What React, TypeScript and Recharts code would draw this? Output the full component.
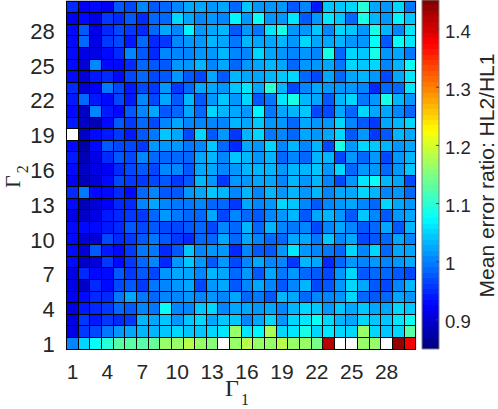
import React from "react";
import { BarChart, Bar, ScatterChart, Scatter, XAxis, YAxis } from "recharts";

// tick labels
const gammaTicks = [1, 4, 7, 10, 13, 16, 19, 22, 25, 28];
const colorTicks = [0.9, 1, 1.1, 1.2, 1.3, 1.4];
const colorRange = [0.85, 1.45];

// one row per Gamma_2, columns are Gamma_1 = 1..30, null = no value (white)
const g30 = [.945,.92,.925,.92,.975,.965,1.0,.98,.985,1.0,1.025,1.02,1.01,1.025,.985,1.045,1.015,1.01,1.015,.98,1.0,.935,1.045,1.045,1.05,1.1,1.025,1.015,1.055,.995];
const g29 = [.92,.925,.915,.96,.95,.98,.95,.985,.985,1.05,1.02,1.0,1.015,1.0,1.07,1.015,1.075,1.015,1.01,1.065,.98,1.015,1.06,1.04,.985,1.085,1.03,1.01,1.07,1.04];
const g28 = [.925,.975,.915,.945,.97,.955,.95,.985,1.02,1.0,1.07,1.015,1.02,1.03,.98,1.015,.995,1.065,1.085,1.01,1.01,1.045,1.0,1.05,1.045,1.015,1.09,1.03,1.005,1.06];
const g27 = [.93,.985,.91,.96,.97,.935,.985,.945,.96,1.0,1.015,1.015,1.03,1.02,.995,1.035,1.02,1.02,1.035,1.01,1.05,1.02,1.02,1.03,1.01,1.01,1.075,.98,1.08,1.06];
const g26 = [.925,.915,.915,.93,.95,1.005,.98,.95,1.0,1.005,1.005,1.015,1.01,1.03,1.0,1.0,1.055,1.02,1.015,1.0,1.01,1.0,1.085,.99,1.05,1.04,1.09,1.01,1.025,.995];
const g25 = [.93,.905,1.0,.925,.925,.95,.985,.98,.975,1.01,1.01,1.03,1.0,1.02,.99,1.01,1.02,1.03,1.02,.985,1.01,1.01,1.02,.995,1.05,1.04,1.055,1.005,1.03,1.075];
const g24 = [.925,.905,.935,.945,.925,.97,.985,.965,.98,1.015,.98,.965,1.025,.98,1.03,1.02,1.025,1.035,1.04,1.05,.985,.965,1.02,.99,1.02,1.035,1.01,.97,1.02,1.06];
const g23 = [.95,.905,.92,.995,.965,.94,.97,.96,1.015,.955,.985,1.02,1.025,1.01,1.04,1.06,1.02,1.095,1.035,.965,1.005,1.02,1.01,1.015,1.01,1.005,.945,.99,.99,1.06];
const g22 = [.935,.985,.935,.925,.97,.935,1.0,.965,1.025,.975,1.035,.975,1.015,1.04,1.015,1.055,.975,.995,1.065,1.09,1.035,1.025,.98,1.035,1.05,.995,1.01,1.09,1.035,1.01];
const g21 = [.93,.895,1.0,.94,.925,.975,1.0,1.02,.975,.99,1.02,.985,1.055,1.03,1.025,1.015,1.07,.995,1.02,1.035,1.04,.965,.97,1.025,.985,1.05,1.02,1.025,1.0,.985];
const g20 = [.935,.89,.885,.93,.975,.96,.99,.97,1.005,1.025,1.005,1.0,1.005,1.005,1.03,1.025,1.045,1.01,1.015,.985,1.025,1.01,1.01,1.05,1.0,.98,.96,1.025,1.035,1.05];
const g19 = [null,.895,.93,.94,.96,.94,.98,.995,1.04,1.025,.965,1.055,.98,1.015,.96,1.035,1.05,.995,1.0,.985,1.025,1.01,1.025,1.055,.98,1.01,.96,.98,1.035,1.025];
const g18 = [.925,.875,.925,.98,.965,.965,.96,1.015,1.01,1.015,.995,1.0,1.045,.985,.95,1.025,1.01,1.05,1.005,1.035,1.0,1.03,.97,1.085,1.015,1.05,1.04,1.03,1.015,1.025];
const g17 = [.935,.885,.91,.945,.98,.97,1.0,.99,.985,.99,.99,1.02,1.03,1.005,1.045,1.03,1.015,1.03,.985,1.005,.985,1.03,1.035,.97,1.015,.985,1.015,.97,1.015,1.03];
const g16 = [.93,.89,.91,.92,.95,.965,.98,.965,1.005,1.005,.975,1.025,1.025,1.0,1.015,1.03,1.03,1.03,1.01,1.03,1.03,1.04,1.01,1.05,.985,1.01,1.01,.99,1.015,1.045];
const g15 = [.92,.885,.905,.925,.965,.96,.955,.965,.98,.96,.975,1.035,1.015,.96,1.01,1.015,1.02,1.02,1.0,1.03,1.01,1.03,1.0,.965,1.01,1.065,1.075,1.035,1.025,.97];
const g14 = [.95,.995,.93,.925,.945,.93,.985,1.0,.975,.975,1.01,1.02,1.04,1.03,1.005,1.03,1.005,1.03,1.01,1.035,1.01,1.035,1.005,1.02,1.025,1.05,1.035,1.005,1.01,.99];
const g13 = [.925,.88,.905,.92,.945,.945,1.005,1.025,1.005,.995,.995,1.0,.99,.985,.955,1.025,1.005,1.01,1.05,1.045,1.005,.98,1.0,1.01,1.025,1.005,.99,1.05,1.02,1.01];
const g12 = [.915,.895,.915,.94,.95,.96,.96,.99,1.01,.995,.985,.985,1.025,.965,1.0,.985,.98,1.0,1.01,1.03,.98,1.02,1.03,1.01,.975,1.04,1.0,.98,1.01,1.02];
const g11 = [.925,.925,.925,.94,.945,.98,.965,.98,.97,.965,.98,.985,.97,1.0,.985,1.03,.99,1.035,1.005,.995,1.0,.965,1.0,1.02,1.0,.98,.985,1.025,.98,1.03];
const g10 = [.925,.9,.905,.965,.95,.955,.98,.995,.98,.96,.95,.985,.985,1.02,.99,1.02,1.0,.985,.99,1.025,1.025,.995,1.04,1.0,1.025,.965,.98,.99,1.02,1.005];
const g9 = [.925,.905,.975,.935,.925,.955,.995,.995,.95,.98,1.04,1.005,1.01,1.015,.945,1.0,.98,.975,1.015,1.06,1.015,1.0,.995,.985,1.055,1.0,1.05,.99,1.02,1.02];
const g8 = [.93,.89,.905,.955,.93,.955,.985,1.0,.95,1.015,1.04,1.01,.98,1.01,.97,1.0,1.02,1.0,1.005,.955,1.03,1.025,.95,.985,1.015,1.005,1.015,1.0,1.015,1.02];
const g7 = [.915,.95,.925,.925,.98,.955,.975,.97,1.01,1.025,1.025,1.005,1.03,1.02,.985,1.01,.975,1.02,.995,1.01,.99,.98,.97,1.01,1.055,.98,.985,.99,.98,.965];
const g6 = [.91,.89,.945,.925,.97,.98,.96,.995,1.005,1.01,1.02,.965,1.01,1.02,.98,1.0,1.025,1.0,.98,1.0,1.03,.965,.975,1.01,1.05,1.02,.975,.97,1.0,1.03];
const g5 = [.92,.925,.945,.95,.995,1.02,.995,.985,1.0,1.005,1.01,1.0,1.01,1.005,1.025,.985,.995,.975,1.035,1.02,.985,1.0,1.0,1.01,1.055,.985,.975,.99,1.02,1.01];
const g4 = [.915,.94,.95,.96,.99,.98,1.0,.995,1.08,1.005,1.005,1.04,1.05,1.0,1.025,1.02,1.01,1.025,1.0,1.035,1.05,1.045,1.01,1.04,1.02,1.04,1.02,1.02,1.05,1.04];
const g3 = [.915,.96,.94,.96,.95,.96,1.035,1.02,1.04,1.015,1.04,1.055,1.02,1.04,1.04,1.0,1.02,1.055,1.01,1.055,1.06,1.075,1.055,1.035,1.025,1.055,1.045,1.04,1.06,1.075];
const g2 = [.915,.96,.97,.995,1.01,1.02,1.03,1.035,1.04,1.05,1.04,1.045,1.05,1.06,1.165,1.06,1.07,1.17,1.055,1.06,1.085,1.05,1.06,1.05,1.055,1.165,1.055,1.04,1.05,1.125];
const g1 = [1.0,1.05,1.075,1.1,1.125,1.13,1.125,1.135,1.165,1.165,1.18,1.16,1.155,null,1.165,1.18,1.165,1.165,1.18,1.165,1.165,1.15,1.42,null,null,1.165,1.16,null,1.44,1.375];

const rowsTopDown = [g30,g29,g28,g27,g26,g25,g24,g23,g22,g21,g20,g19,g18,g17,g16,g15,g14,g13,g12,g11,g10,g9,g8,g7,g6,g5,g4,g3,g2,g1];

const cells = rowsTopDown.flatMap((row, i) =>
  row.map((ratio, j) => ({ g1: j + 1, g2: 30 - i, ratio }))
);

const WIDTH = 498;
const HEIGHT = 409;
const PLOT_LEFT = 66.7;
const PLOT_RIGHT = 415.7;
const PLOT_TOP = 1;
const PLOT_BOTTOM = 349;
const CELL_W = (PLOT_RIGHT - PLOT_LEFT) / 30;
const CELL_H = (PLOT_BOTTOM - PLOT_TOP) / 30;
const INK = "#262626";
const FRAME = "#808080";
const SANS = "'Liberation Sans', Arial, sans-serif";
const SERIF = "'Liberation Serif', 'Times New Roman', serif";

// matlab jet with 64 levels
const jetLevel = (i: number) => {
  const t = (i + 0.5) / 64;
  const ch = (c: number) =>
    Math.round(255 * Math.max(0, Math.min(1, 1.5 - Math.abs(4 * t - c))));
  return `rgb(${ch(3)},${ch(2)},${ch(1)})`;
};

const jetColor = (v: number | null) => {
  if (v === null) return "#ffffff";
  const i = Math.floor(((v - colorRange[0]) / (colorRange[1] - colorRange[0])) * 64);
  return jetLevel(Math.max(0, Math.min(63, i)));
};

const HeatCell = (props: any) => (
  <rect
    x={props.cx - CELL_W / 2}
    y={props.cy - CELL_H / 2}
    width={CELL_W}
    height={CELL_H}
    fill={jetColor(props.payload.ratio)}
    stroke="#000"
    strokeWidth={1}
    shapeRendering="crispEdges"
  />
);

const levels = [...Array(64)].map((_, i) => i);

export default function App() {
  return (
    <div style={{ position: "absolute", left: 0, top: 0, width: WIDTH, height: HEIGHT }}>
      <div style={{ position: "absolute", left: 0, top: 0 }}>
        <ScatterChart
          width={WIDTH}
          height={HEIGHT}
          margin={{ top: PLOT_TOP, right: WIDTH - PLOT_RIGHT, bottom: 0, left: 0 }}
        >
          <XAxis
            type="number"
            dataKey="g1"
            domain={[0.5, 30.5]}
            ticks={gammaTicks}
            interval={0}
            height={HEIGHT - PLOT_BOTTOM}
            tickLine={false}
            tickMargin={9}
            axisLine={false}
            tick={{ fill: INK, fontSize: 21, fontFamily: SANS }}
          />
          <YAxis
            type="number"
            dataKey="g2"
            domain={[0.5, 30.5]}
            ticks={gammaTicks}
            interval={0}
            width={PLOT_LEFT}
            tickLine={false}
            tickMargin={6}
            axisLine={false}
            tick={{ fill: INK, fontSize: 22, fontFamily: SANS, dy: 1 }}
          />
          <Scatter data={cells} isAnimationActive={false} shape={HeatCell} />
          <rect
            x={PLOT_LEFT}
            y={PLOT_TOP}
            width={PLOT_RIGHT - PLOT_LEFT}
            height={PLOT_BOTTOM - PLOT_TOP}
            fill="none"
            stroke={FRAME}
          />
          <text x={225} y={396} fill={INK} fontSize={24} fontFamily={SERIF}>
            Γ<tspan fontSize={16} dy={9} dx={2}>1</tspan>
          </text>
          <text
            x={0}
            y={0}
            transform="translate(20 188) rotate(-90)"
            fill={INK}
            fontSize={22}
            fontFamily={SERIF}
          >
            Γ<tspan fontSize={16} dy={8} dx={2}>2</tspan>
          </text>
        </ScatterChart>
      </div>
      <div style={{ position: "absolute", left: 0, top: 0 }}>
        <BarChart
          width={WIDTH}
          height={HEIGHT}
          data={[{ name: "ratio", range: colorRange }]}
          margin={{ top: 0, right: 0, bottom: HEIGHT - PLOT_BOTTOM, left: 422 }}
          barCategoryGap={0}
        >
          <defs>
            <linearGradient id="jetBar" x1="0" y1="1" x2="0" y2="0">
              {levels.flatMap((i) => [
                <stop key={`a${i}`} offset={i / 64} stopColor={jetLevel(i)} />,
                <stop key={`b${i}`} offset={(i + 1) / 64} stopColor={jetLevel(i)} />,
              ])}
            </linearGradient>
          </defs>
          <XAxis dataKey="name" hide />
          <YAxis
            type="number"
            orientation="right"
            domain={colorRange}
            ticks={colorTicks}
            interval={0}
            width={59}
            tickLine={{ stroke: "#404040" }}
            tickSize={-3}
            tickMargin={9}
            tickFormatter={(v: number) => String(v)}
            axisLine={false}
            tick={{ fill: INK, fontSize: 18.5, fontFamily: SANS, dy: 2 }}
          />
          <Bar dataKey="range" fill="url(#jetBar)" stroke={FRAME} isAnimationActive={false} />
          <text
            x={0}
            y={0}
            transform="translate(493.5 175.5) rotate(-90)"
            textAnchor="middle"
            fill={INK}
            fontSize={21}
            fontFamily={SANS}
          >
            Mean error ratio: HL2/HL1
          </text>
        </BarChart>
      </div>
    </div>
  );
}
